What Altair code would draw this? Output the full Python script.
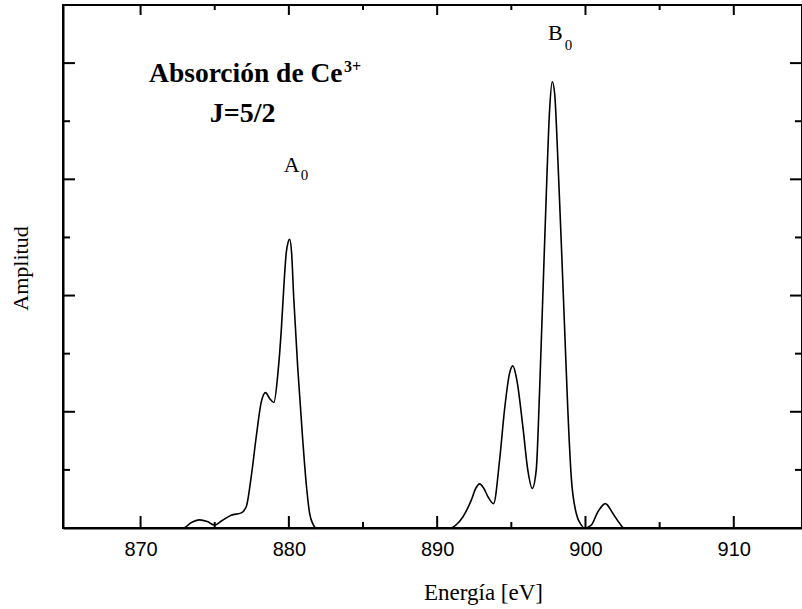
import altair as alt
import pandas as pd

# ---- data ----
energy = [864.77, 872.9, 873.4, 873.98, 874.5, 874.99, 875.5, 876.11, 876.79, 877.13,
          877.46, 877.8, 878.14, 878.43, 878.7, 878.99, 879.26, 879.49, 879.66, 879.82,
          879.95, 880.05, 880.18, 880.33, 880.6, 880.92, 881.19, 881.4, 881.62, 881.84,
          890.9, 891.3, 891.73, 892.3, 892.6, 892.86, 893.15, 893.42, 893.8, 894.21,
          894.54, 894.88, 895.1, 895.37, 895.78, 896.11, 896.41, 896.68, 896.9, 897.13,
          897.36, 897.58, 897.76, 897.92, 898.14, 898.37, 898.59, 898.81, 899.04, 899.38,
          899.72, 899.94, 900.39, 900.84, 901.34, 901.85, 902.3, 902.6, 914.67]
amplitude = [0.0, 0.0, 0.09, 0.14, 0.11, 0.05, 0.13, 0.22, 0.26, 0.37,
             0.88, 1.57, 2.17, 2.33, 2.23, 2.16, 2.66, 3.41, 4.15, 4.73,
             4.92, 4.97, 4.75, 3.95, 2.75, 1.57, 0.71, 0.25, 0.07, 0.0,
             0.0, 0.06, 0.19, 0.48, 0.68, 0.76, 0.68, 0.54, 0.42, 1.17,
             2.03, 2.66, 2.79, 2.55, 1.74, 1.0, 0.68, 1.0, 2.32, 4.04,
             5.76, 7.19, 7.68, 7.48, 6.33, 4.9, 3.46, 2.03, 0.88, 0.25,
             0.05, 0.0, 0.05, 0.28, 0.42, 0.25, 0.08, 0.0, 0.0]

x_major = [870, 880, 890, 900, 910]
x_minor = [875, 885, 895, 905]
y_major = [2, 4, 6, 8]
y_minor = [1, 3, 5, 7]

X_DOMAIN = [864.77, 914.6]
Y_DOMAIN = [0, 9]

# annotations (text, energy, amplitude)
head_text = ["Absorción de Ce"]
head_x = [883.62]
head_y = [7.68]
sup_text = ["3+"]
sup_x = [883.72]
sup_y = [7.85]
j_text = ["J=5/2"]
j_x = [876.88]
j_y = [6.99]
peak_text = ["A", "B"]
peak_x = [880.72, 898.46]
peak_y = [6.13, 8.39]
sub_text = ["0", "0"]
sub_x = [880.8, 898.6]
sub_y = [5.99, 8.22]

W, H = 739, 523
SERIF = "Liberation Serif"
SANS = "Liberation Sans"

xs = alt.Scale(domain=X_DOMAIN, nice=False, zero=False)
ys = alt.Scale(domain=Y_DOMAIN, nice=False, zero=False)

X_AXIS = alt.Axis(
    values=x_major, format="d", grid=False, ticks=False,
    domain=True, domainColor="black", domainWidth=2,
    labelFont=SANS, labelFontSize=20, labelColor="black", labelPadding=11,
    title="Energía [eV]", titleFont=SERIF, titleFontSize=23,
    titleFontWeight="normal", titleColor="black",
    titleX=420, titleY=71, titleAlign="center", titleBaseline="alphabetic")
Y_AXIS = alt.Axis(
    grid=False, ticks=False, labels=False,
    domain=True, domainColor="black", domainWidth=2,
    title="Amplitud", titleFont=SERIF, titleFontSize=22,
    titleFontWeight="normal", titleColor="black",
    titleAngle=-90, titleX=-36, titleY=263, titleAlign="center",
    titleBaseline="alphabetic")

df = pd.DataFrame({"energy": energy, "amp": amplitude})

curve = alt.Chart(df).mark_line(
    color="black", strokeWidth=1.6, interpolate="monotone"
).encode(x=alt.X("energy:Q", scale=xs, axis=X_AXIS),
         y=alt.Y("amp:Q", scale=ys, axis=Y_AXIS))


def xticks(vals, length, top):
    d = pd.DataFrame({"energy": vals})
    x = alt.X("energy:Q", scale=xs)
    if top:
        return alt.Chart(d).mark_rule(color="black", strokeWidth=2).encode(
            x=x, y=alt.value(0), y2=alt.value(length))
    return alt.Chart(d).mark_rule(color="black", strokeWidth=2).encode(
        x=x, y=alt.value(H), y2=alt.value(H - length))


def yticks(vals, length, right):
    d = pd.DataFrame({"amp": vals})
    y = alt.Y("amp:Q", scale=ys)
    if right:
        return alt.Chart(d).mark_rule(color="black", strokeWidth=2).encode(
            y=y, x=alt.value(W), x2=alt.value(W - length))
    return alt.Chart(d).mark_rule(color="black", strokeWidth=2).encode(
        y=y, x=alt.value(0), x2=alt.value(length))


def text_layer(texts, xv, yv, size, weight, align):
    d = pd.DataFrame({"t": texts, "energy": xv, "amp": yv})
    return alt.Chart(d).mark_text(
        font=SERIF, fontSize=size, fontWeight=weight, align=align,
        baseline="alphabetic", color="black"
    ).encode(x=alt.X("energy:Q", scale=xs), y=alt.Y("amp:Q", scale=ys), text="t:N")


layers = [
    curve,
    xticks(x_major, 12, False), xticks(x_minor, 6, False),
    xticks(x_major, 10, True), xticks(x_minor, 5, True),
    yticks(y_major, 12, False), yticks(y_minor, 7, False),
    yticks(y_major, 12, True), yticks(y_minor, 7, True),
    text_layer(head_text, head_x, head_y, 27.5, "bold", "right"),
    text_layer(sup_text, sup_x, sup_y, 16, "bold", "left"),
    text_layer(j_text, j_x, j_y, 28, "bold", "center"),
    text_layer(peak_text, peak_x, peak_y, 22, "normal", "right"),
    text_layer(sub_text, sub_x, sub_y, 15, "normal", "left"),
]

chart = alt.layer(*layers).properties(
    width=W, height=H,
    autosize=alt.AutoSizeParams(type="none"),
    padding={"left": 63, "top": 5, "right": 0, "bottom": 81},
    background="white",
).configure_view(stroke="black", strokeWidth=2)

chart.save("out.html", embed_options={"renderer": "svg", "actions": False})
